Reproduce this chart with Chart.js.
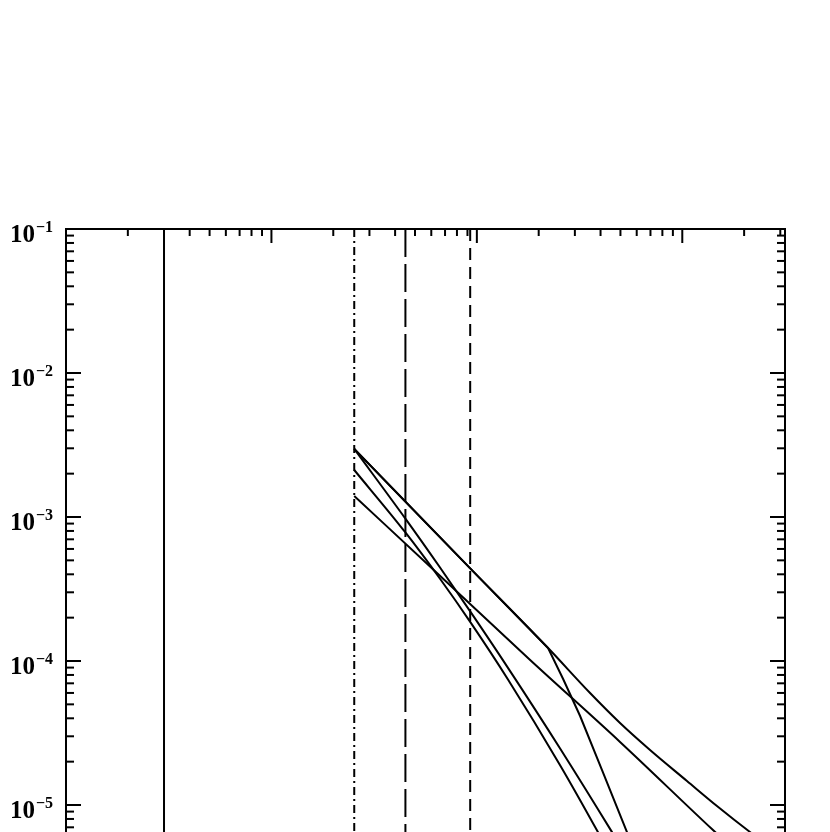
<!DOCTYPE html>
<html><head><meta charset="utf-8">
<script src="https://cdn.jsdelivr.net/npm/chart.js@4.4.0/dist/chart.umd.min.js"></script>
<style>
html,body{margin:0;padding:0;background:#fff;overflow:hidden;width:830px;height:832px}
#wrap{width:830px;height:1000px;position:relative}
canvas{display:block}
</style></head>
<body><div id="wrap"><canvas id="c" width="830" height="1000"></canvas></div>
<script>
// ---- data ----
const xMin = 1, xMax = 3162.28;
const yMin = 1e-6, yMax = 1e-1;
const yTickExponents = [-1, -2, -3, -4, -5, -6];
const xMajorTicks = [1, 10, 100, 1000];
const minorMultipliers = [2, 3, 4, 5, 6, 7, 8, 9];

const solidLineX = 3.0;
const dashDotLineX = 25.3;
const longDashLineX = 44.9;
const shortDashLineX = 92.8;

const curve1X = [25.3, 92.8, 222.2, 355.7, 497.7, 696.6, 1054, 1475, 2135, 3162];
const curve1Y = [2.97e-3, 4.40e-4, 1.23e-4, 5.99e-5, 3.71e-5, 2.41e-5, 1.468e-5, 9.84e-6, 6.49e-6, 4.29e-6];

const curve2X = [25.3, 66.3, 181.7, 497.7, 1394, 3162];
const curve2Y = [1.40e-3, 3.89e-4, 1.016e-4, 2.74e-5, 6.81e-6, 2.33e-6];

const curve3X = [25.3, 44.8, 66.3, 92.8, 142.0, 254.2, 389.0, 497.7];
const curve3Y = [2.12e-3, 7.84e-4, 3.71e-4, 1.87e-4, 7.42e-5, 1.89e-5, 6.46e-6, 3.37e-6];

const curve4X = [25.3, 44.8, 66.3, 92.8, 142.0, 254.2, 455.0, 622.8];
const curve4Y = [2.97e-3, 9.78e-4, 4.44e-4, 2.21e-4, 8.93e-5, 2.47e-5, 6.48e-6, 3.08e-6];

const curve5X = [25.3, 92.8, 222.2, 263.0, 318.1, 406.8, 538.0, 696.6];
const curve5Y = [2.97e-3, 4.40e-4, 1.23e-4, 7.50e-5, 4.15e-5, 1.75e-5, 6.49e-6, 2.57e-6];

// ---- build datasets ----
const pts = (xs, ys) => xs.map((v, i) => ({x: v, y: ys[i]}));
const curveStyle = {borderColor:'#000', borderWidth:2, pointRadius:0, showLine:true, fill:false, cubicInterpolationMode:'monotone'};
const vline = (xv, dash) => ({data:[{x:xv,y:yMax},{x:xv,y:yMin}], borderColor:'#000', borderWidth:2, pointRadius:0, showLine:true, fill:false, tension:0, borderDash:dash});

const datasets = [
  vline(solidLineX, []),
  vline(dashDotLineX, [8,4,2,4]),
  vline(longDashLineX, [28,7]),
  vline(shortDashLineX, [12,7]),
  Object.assign({data: pts(curve1X, curve1Y)}, curveStyle),
  Object.assign({data: pts(curve2X, curve2Y)}, curveStyle),
  Object.assign({data: pts(curve3X, curve3Y)}, curveStyle),
  Object.assign({data: pts(curve4X, curve4Y)}, curveStyle),
  Object.assign({data: pts(curve5X, curve5Y)}, curveStyle, {cubicInterpolationMode:'default', tension:0})
];

const framePlugin = {
  id: 'frameTicks',
  afterDraw(chart) {
    const {ctx, chartArea: a, scales: {x, y}} = chart;
    ctx.save();
    ctx.strokeStyle = '#000';
    ctx.lineWidth = 2;
    ctx.lineCap = 'butt';
    ctx.strokeRect(a.left, a.top, a.right - a.left, a.bottom - a.top);
    const seg = (x1, y1, x2, y2) => { ctx.beginPath(); ctx.moveTo(x1, y1); ctx.lineTo(x2, y2); ctx.stroke(); };
    xMajorTicks.forEach(base => {
      [1].concat(minorMultipliers).forEach(m => {
        const v = base * m;
        if (v > xMax * 1.0001) return;
        const px = x.getPixelForValue(v);
        const len = m === 1 ? 14 : 7;
        seg(px, a.top, px, a.top + len);
        seg(px, a.bottom, px, a.bottom - len);
      });
    });
    yTickExponents.forEach(e => {
      const base = Math.pow(10, e);
      [1].concat(minorMultipliers).forEach(m => {
        const v = base * m;
        if (v > yMax * 1.0001) return;
        const py = y.getPixelForValue(v);
        const len = m === 1 ? 15 : 8;
        seg(a.left, py, a.left + len, py);
        seg(a.right, py, a.right - len, py);
      });
    });
    ctx.fillStyle = '#000';
    ctx.textBaseline = 'alphabetic';
    ctx.textAlign = 'left';
    yTickExponents.forEach(e => {
      const py = y.getPixelForValue(Math.pow(10, e));
      ctx.font = 'bold 25px "Liberation Serif"';
      ctx.fillText('10', 10, py + 13);
      const w = ctx.measureText('10').width;
      ctx.font = 'bold 16px "Liberation Serif"';
      ctx.fillText('\u2212' + Math.abs(e), 10 + w + 1, py + 3);
    });
    ctx.restore();
  }
};

new Chart(document.getElementById('c'), {
  type: 'scatter',
  data: {datasets},
  options: {
    responsive: false,
    animation: false,
    devicePixelRatio: 1,
    layout: {padding: {left: 66, right: 45, top: 229, bottom: 51}},
    plugins: {legend: {display: false}, tooltip: {enabled: false}},
    scales: {
      x: {type: 'logarithmic', min: xMin, max: xMax, display: false},
      y: {type: 'logarithmic', min: yMin, max: yMax, display: false}
    }
  },
  plugins: [framePlugin]
});
</script>
</body></html>
